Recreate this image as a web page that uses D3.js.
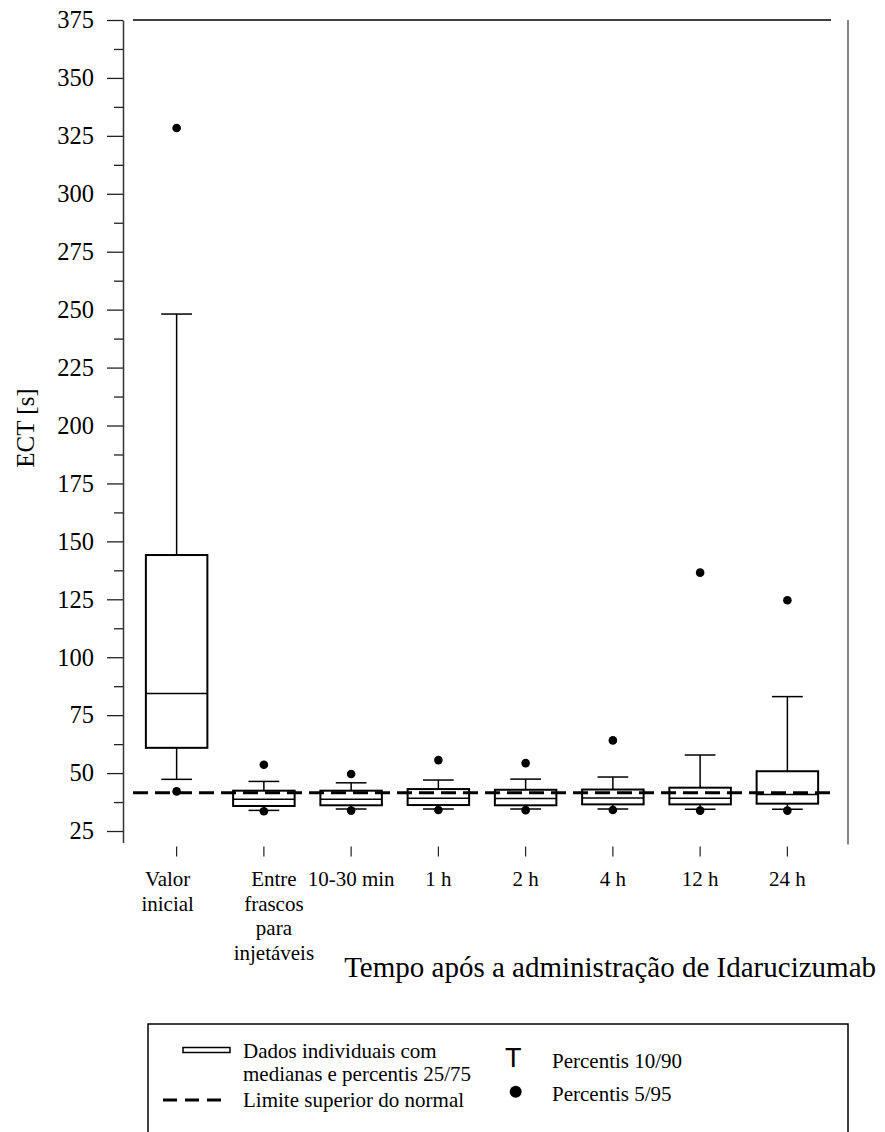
<!DOCTYPE html>
<html>
<head>
<meta charset="utf-8">
<script src="https://cdn.jsdelivr.net/npm/d3@7"></script>
<style>
  html, body { margin: 0; padding: 0; background: #fff; }
  svg { display: block; }
  svg text { font-family: "Liberation Serif", "Times New Roman", serif; }
  svg text.sans { font-family: "Liberation Sans", Arial, sans-serif; }
</style>
</head>
<body>
<script>
// Time points after Idarucizumab administration (line breaks mark label wrapping)
const categories = [
  "Valor\ninicial",
  "Entre\nfrascos\npara\ninjetáveis",
  "10-30 min",
  "1 h",
  "2 h",
  "4 h",
  "12 h",
  "24 h"
];

// ECT [s] percentiles per time point
const p5     = [42.1, 33.5, 33.8, 34.1, 34.0, 34.1, 33.8, 33.8];
const p10    = [47.3, 33.9, 34.5, 34.5, 34.5, 34.5, 34.4, 34.4];
const p25    = [60.9, 35.8, 36.1, 36.2, 36.1, 36.5, 36.5, 36.8];
const median = [84.3, 38.7, 38.7, 39.1, 39.0, 39.2, 39.1, 40.8];
const p75    = [144.1, 42.4, 42.4, 43.1, 42.8, 42.9, 43.7, 50.8];
const p90    = [248.1, 46.4, 45.8, 47.0, 47.4, 48.3, 57.8, 83.0];
const p95    = [328.4, 53.6, 49.6, 55.6, 54.3, 64.1, 136.5, 124.6];

// Upper limit of normal
const upperNormal = 41.5;

// Y axis tick values
const majorTicks = d3.range(25, 376, 25);
const minorTicks = d3.range(37.5, 375, 25);

const W = 885, H = 1132;
const svg = d3.select("body").append("svg").attr("width", W).attr("height", H);

const x = d3.scaleBand()
  .domain(categories)
  .range([133, 831])
  .paddingInner(0.295)
  .paddingOuter(0.1475);

const y = d3.scaleLinear().domain([20, 375]).range([842.6, 20]);

const bw = x.bandwidth();
const cx = c => x(c) + bw / 2;

// Left axis: major ticks with labels, minor ticks without
const gMajor = svg.append("g")
  .attr("transform", "translate(123,0)")
  .call(d3.axisLeft(y).tickValues(majorTicks).tickSize(16).tickSizeOuter(0).tickPadding(13));
gMajor.attr("font-family", null).attr("font-size", null);
gMajor.selectAll("text")
  .style("font-family", "'Liberation Serif', serif")
  .style("font-size", "24.5px")
  .attr("fill", "#000");
gMajor.selectAll("line").attr("stroke", "#222").attr("stroke-width", 1.3);
gMajor.select(".domain").attr("stroke", "#333").attr("stroke-width", 1.5);

const gMinor = svg.append("g")
  .attr("transform", "translate(123,0)")
  .call(d3.axisLeft(y).tickValues(minorTicks).tickSize(9).tickSizeOuter(0).tickFormat(""));
gMinor.select(".domain").remove();
gMinor.selectAll("line").attr("stroke", "#222").attr("stroke-width", 1.3);

// Frame: top line and right line
svg.append("line")
  .attr("x1", x.range()[0]).attr("x2", x.range()[1])
  .attr("y1", y(375)).attr("y2", y(375))
  .attr("stroke", "#000").attr("stroke-width", 1.5);
svg.append("line")
  .attr("x1", 848).attr("x2", 848)
  .attr("y1", y(375)).attr("y2", y(20) + 2)
  .attr("stroke", "#444").attr("stroke-width", 1.3);

// Category ticks below the plot
svg.append("g").selectAll("line")
  .data(categories).join("line")
  .attr("x1", d => cx(d)).attr("x2", d => cx(d))
  .attr("y1", y(20) + 4).attr("y2", y(20) + 14)
  .attr("stroke", "#222").attr("stroke-width", 1.2);

// Category labels (wrapped)
const labelShift = { "Valor\ninicial": -9, "Entre\nfrascos\npara\ninjetáveis": 10 };
const lab = svg.append("g").selectAll("text")
  .data(categories).join("text")
  .attr("text-anchor", "middle")
  .style("font-size", "21px")
  .attr("fill", "#000")
  .attr("transform", d => `translate(${cx(d) + (labelShift[d] || 0)},886)`);
lab.selectAll("tspan")
  .data(d => d.split("\n")).join("tspan")
  .attr("x", 0)
  .attr("dy", (d, i) => i === 0 ? 0 : 24.5)
  .text(d => d);

// Box plots
const data = categories.map((c, i) => ({
  c, p5: p5[i], p10: p10[i], q1: p25[i], med: median[i], q3: p75[i], p90: p90[i], p95: p95[i]
}));

const g = svg.append("g");
const box = g.selectAll("g.box").data(data).join("g").attr("class", "box");

// whiskers
box.append("line")
  .attr("x1", d => cx(d.c)).attr("x2", d => cx(d.c))
  .attr("y1", d => y(d.q3)).attr("y2", d => y(d.p90))
  .attr("stroke", "#000").attr("stroke-width", 1.5);
box.append("line")
  .attr("x1", d => cx(d.c)).attr("x2", d => cx(d.c))
  .attr("y1", d => y(d.q1)).attr("y2", d => y(d.p10))
  .attr("stroke", "#000").attr("stroke-width", 1.5);
// caps
box.append("line")
  .attr("x1", d => cx(d.c) - bw / 4).attr("x2", d => cx(d.c) + bw / 4)
  .attr("y1", d => y(d.p90)).attr("y2", d => y(d.p90))
  .attr("stroke", "#000").attr("stroke-width", 1.5);
box.append("line")
  .attr("x1", d => cx(d.c) - bw / 4).attr("x2", d => cx(d.c) + bw / 4)
  .attr("y1", d => y(d.p10)).attr("y2", d => y(d.p10))
  .attr("stroke", "#000").attr("stroke-width", 1.5);
// boxes
box.append("rect")
  .attr("x", d => x(d.c)).attr("width", bw)
  .attr("y", d => y(d.q3)).attr("height", d => y(d.q1) - y(d.q3))
  .attr("fill", "#fff").attr("stroke", "#000").attr("stroke-width", 2);
// medians
box.append("line")
  .attr("x1", d => x(d.c)).attr("x2", d => x(d.c) + bw)
  .attr("y1", d => y(d.med)).attr("y2", d => y(d.med))
  .attr("stroke", "#000").attr("stroke-width", 1.5);

// Upper limit of normal (dashed)
svg.append("line")
  .attr("x1", x.range()[0]).attr("x2", x.range()[1])
  .attr("y1", y(upperNormal)).attr("y2", y(upperNormal))
  .attr("stroke", "#000").attr("stroke-width", 3)
  .attr("stroke-dasharray", "15,7");

// 5th / 95th percentile points
const pts = data.flatMap(d => [{ c: d.c, v: d.p5 }, { c: d.c, v: d.p95 }]);
svg.append("g").selectAll("circle")
  .data(pts).join("circle")
  .attr("cx", d => cx(d.c)).attr("cy", d => y(d.v))
  .attr("r", 4.3).attr("fill", "#000");

// Axis titles
svg.append("text")
  .attr("transform", "translate(33.5,428) rotate(-90)")
  .attr("text-anchor", "middle")
  .style("font-size", "25px")
  .text("ECT [s]");

svg.append("text")
  .attr("x", 876).attr("y", 977)
  .attr("text-anchor", "end")
  .style("font-size", "29px")
  .text("Tempo após a administração de Idarucizumab");

// Legend
const lg = svg.append("g");
lg.append("rect")
  .attr("x", 148).attr("y", 1024).attr("width", 700).attr("height", 200)
  .attr("fill", "none").attr("stroke", "#000").attr("stroke-width", 1.5);
lg.append("rect")
  .attr("x", 183).attr("y", 1047.5).attr("width", 47).attr("height", 5)
  .attr("fill", "#fff").attr("stroke", "#000").attr("stroke-width", 1.5);
lg.append("line")
  .attr("x1", 163).attr("x2", 221).attr("y1", 1100).attr("y2", 1100)
  .attr("stroke", "#000").attr("stroke-width", 3).attr("stroke-dasharray", "14,8");
lg.append("text").attr("class", "sans").attr("x", 505).attr("y", 1066.5)
  .style("font-size", "27px").text("T");
lg.append("circle").attr("cx", 515.7).attr("cy", 1091.7).attr("r", 6).attr("fill", "#000");

const legendText = [
  { x: 243, y: 1058, t: "Dados individuais com" },
  { x: 243, y: 1081, t: "medianas e percentis 25/75" },
  { x: 243, y: 1107, t: "Limite superior do normal" },
  { x: 552, y: 1068, t: "Percentis 10/90" },
  { x: 552, y: 1101, t: "Percentis 5/95" }
];
lg.selectAll("text.lt").data(legendText).join("text")
  .attr("class", "lt")
  .attr("x", d => d.x).attr("y", d => d.y)
  .style("font-size", "21px")
  .text(d => d.t);
</script>
</body>
</html>
